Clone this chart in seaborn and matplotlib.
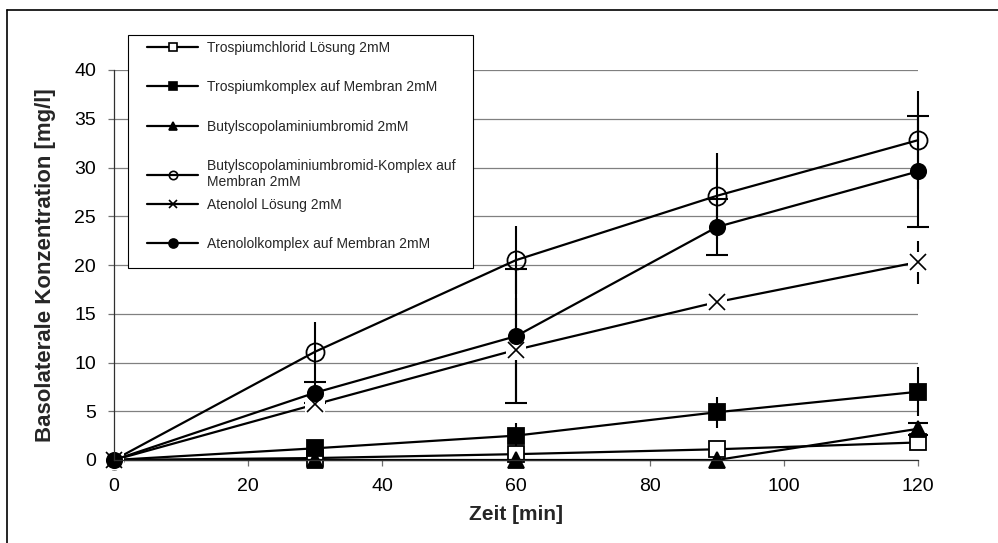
import matplotlib
matplotlib.use("Agg")
import matplotlib.pyplot as plt
from matplotlib.lines import Line2D
from matplotlib.patches import Rectangle
import numpy as np
import pandas as pd
import seaborn as sns

# Sampling times [min]
zeit = [0, 30, 60, 90, 120]

series = [
    "Trospiumchlorid Lösung 2mM",
    "Trospiumkomplex auf Membran 2mM",
    "Butylscopolaminiumbromid 2mM",
    "Butylscopolaminiumbromid-Komplex auf\nMembran 2mM",
    "Atenolol Lösung 2mM",
    "Atenololkomplex auf Membran 2mM",
]

# Mean basolateral concentrations [mg/l]
trospium_loesung = [0, 0.2, 0.6, 1.1, 1.8]
trospium_komplex = [0, 1.2, 2.5, 4.9, 7.0]
butyl_loesung = [0, 0, 0, 0, 3.2]
butyl_komplex = [0, 11.1, 20.5, 27.1, 32.8]
atenolol_loesung = [0, 5.7, 11.3, 16.2, 20.3]
atenolol_komplex = [0, 6.9, 12.7, 23.9, 29.6]

# Standard deviations [mg/l]
trospium_loesung_sd = [0, 0.1, 0.3, 0.3, 0.4]
trospium_komplex_sd = [0, 0.5, 1.3, 1.6, 2.5]
butyl_loesung_sd = [0, 0, 0, 0, 0.6]
butyl_komplex_sd = [0, 3.1, 3.5, 4.4, 5.0]
atenolol_loesung_sd = [0, 0.3, 5.3, 0.6, 2.2]
atenolol_komplex_sd = [0, 1.1, 6.9, 2.9, 5.7]

means = [trospium_loesung, trospium_komplex, butyl_loesung,
         butyl_komplex, atenolol_loesung, atenolol_komplex]
sds = [trospium_loesung_sd, trospium_komplex_sd, butyl_loesung_sd,
       butyl_komplex_sd, atenolol_loesung_sd, atenolol_komplex_sd]

x_ticks = [0, 20, 40, 60, 80, 100, 120]
y_ticks = [0, 5, 10, 15, 20, 25, 30, 35, 40]

# marker, face colour, size (pt), legend size (pt), error cap size (pt)
styles = [
    ("s", "white", 12, 6, 0),
    ("s", "black", 12, 6, 0),
    ("^", "black", 11, 6, 7),
    ("o", "none", 13, 6, 0),
    ("x", "none", 12, 6, 0),
    ("o", "black", 11, 6.5, 8),
]

rows = []
for name, m, s in zip(series, means, sds):
    for t, v, e in zip(zeit, m, s):
        rows.append({"Zeit": t, "Konz": v, "SD": e, "Serie": name})
df = pd.DataFrame(rows)

sns.set_theme(style="ticks")
plt.rcParams["font.family"] = ["Liberation Sans", "DejaVu Sans"]

W, H = 998, 543
fig = plt.figure(figsize=(W / 100, H / 100), dpi=100)
ax = fig.add_axes([114 / W, 1 - 460 / H, (918 - 114) / W, (460 - 70) / H])

# error bars underneath the data lines
for name, st in zip(series, styles):
    sub = df[(df["Serie"] == name) & (df["SD"] > 0)]
    ax.errorbar(sub["Zeit"], sub["Konz"], yerr=sub["SD"], fmt="none",
                ecolor="black", elinewidth=1.5, capsize=st[4], capthick=1.5,
                zorder=1.9, clip_on=False)

n_before = len(ax.lines)
# seaborn needs filled markers here; the cross is applied afterwards
sns.lineplot(data=df, x="Zeit", y="Konz", hue="Serie", style="Serie",
             hue_order=series, style_order=series,
             palette={n: "black" for n in series},
             markers={n: (st[0] if st[0] != "x" else "D")
                      for n, st in zip(series, styles)},
             dashes=False, errorbar=None, sort=False, legend=False,
             linewidth=1.6, ax=ax)

data_lines = ax.lines[n_before:n_before + 6]
for line, st in zip(data_lines, styles):
    mk, fc, ms = st[0], st[1], st[2]
    line.set_marker(mk)
    line.set_markersize(ms)
    line.set_markerfacecolor(fc)
    line.set_markeredgecolor("black")
    line.set_markeredgewidth(1.3 if mk != "x" else 1.2)
    line.set_color("black")
    line.set_clip_on(False)
data_lines[5].set_zorder(2.3)

# blank patch behind the cross markers, then the crosses on top
ax.plot(zeit, atenolol_loesung, linestyle="none", marker="s", markersize=14,
        markerfacecolor="white", markeredgewidth=0, zorder=2.05, clip_on=False)
ax.plot(zeit, atenolol_loesung, linestyle="none", marker="x", markersize=12,
        markeredgecolor="black", markeredgewidth=1.2, zorder=2.1, clip_on=False)

ax.set_xlim(0, 120)
ax.set_ylim(0, 40)
ax.set_xticks(x_ticks)
ax.set_yticks(y_ticks)
ax.yaxis.grid(True, color="#808080", linewidth=0.9)
ax.xaxis.grid(False)
ax.set_axisbelow(True)
for side in ("top", "right"):
    ax.spines[side].set_visible(False)
for side in ("left", "bottom"):
    ax.spines[side].set_color("#303030")
    ax.spines[side].set_linewidth(0.9)
ax.tick_params(axis="both", which="major", direction="out", length=4.5,
               width=0.9, color="#707070", labelsize=14, labelcolor="black",
               pad=8.5, left=True, bottom=True)
ax.set_xlabel("Zeit [min]", fontsize=15, fontweight="bold", labelpad=7)
ax.set_ylabel("Basolaterale Konzentration [mg/l]", fontsize=16,
              fontweight="bold", labelpad=13)

# legend box
box = Rectangle((128 / W, 1 - 268 / H), (473 - 128) / W, (268 - 35) / H,
                transform=fig.transFigure, facecolor="white",
                edgecolor="black", linewidth=0.8, zorder=3)
fig.add_artist(box)

handles = [Line2D([], [], color="black", linewidth=1.6, marker=st[0],
                  markersize=st[3], markerfacecolor=st[1],
                  markeredgecolor="black", markeredgewidth=1.2)
           for st in styles]
leg_kw = dict(loc="upper left", bbox_transform=fig.transFigure,
              frameon=False, fontsize=10, borderpad=0, borderaxespad=0,
              handlelength=3.7, handletextpad=0.6, labelspacing=1.82)
leg_top = fig.legend(handles[:4], series[:4],
                     bbox_to_anchor=(147 / W, 1 - 41 / H), **leg_kw)
leg_bottom = fig.legend(handles[4:], series[4:],
                        bbox_to_anchor=(147 / W, 1 - 198 / H), **leg_kw)
leg_top.set_zorder(5)
leg_bottom.set_zorder(5)

# outer chart frame
fig.add_artist(Line2D([7 / W, 7 / W], [1 - 10 / H, 0], transform=fig.transFigure,
                      color="black", linewidth=1.2))
fig.add_artist(Line2D([7 / W, 1], [1 - 10 / H, 1 - 10 / H],
                      transform=fig.transFigure, color="black", linewidth=1.2))

fig.savefig("out.png", dpi=100)
